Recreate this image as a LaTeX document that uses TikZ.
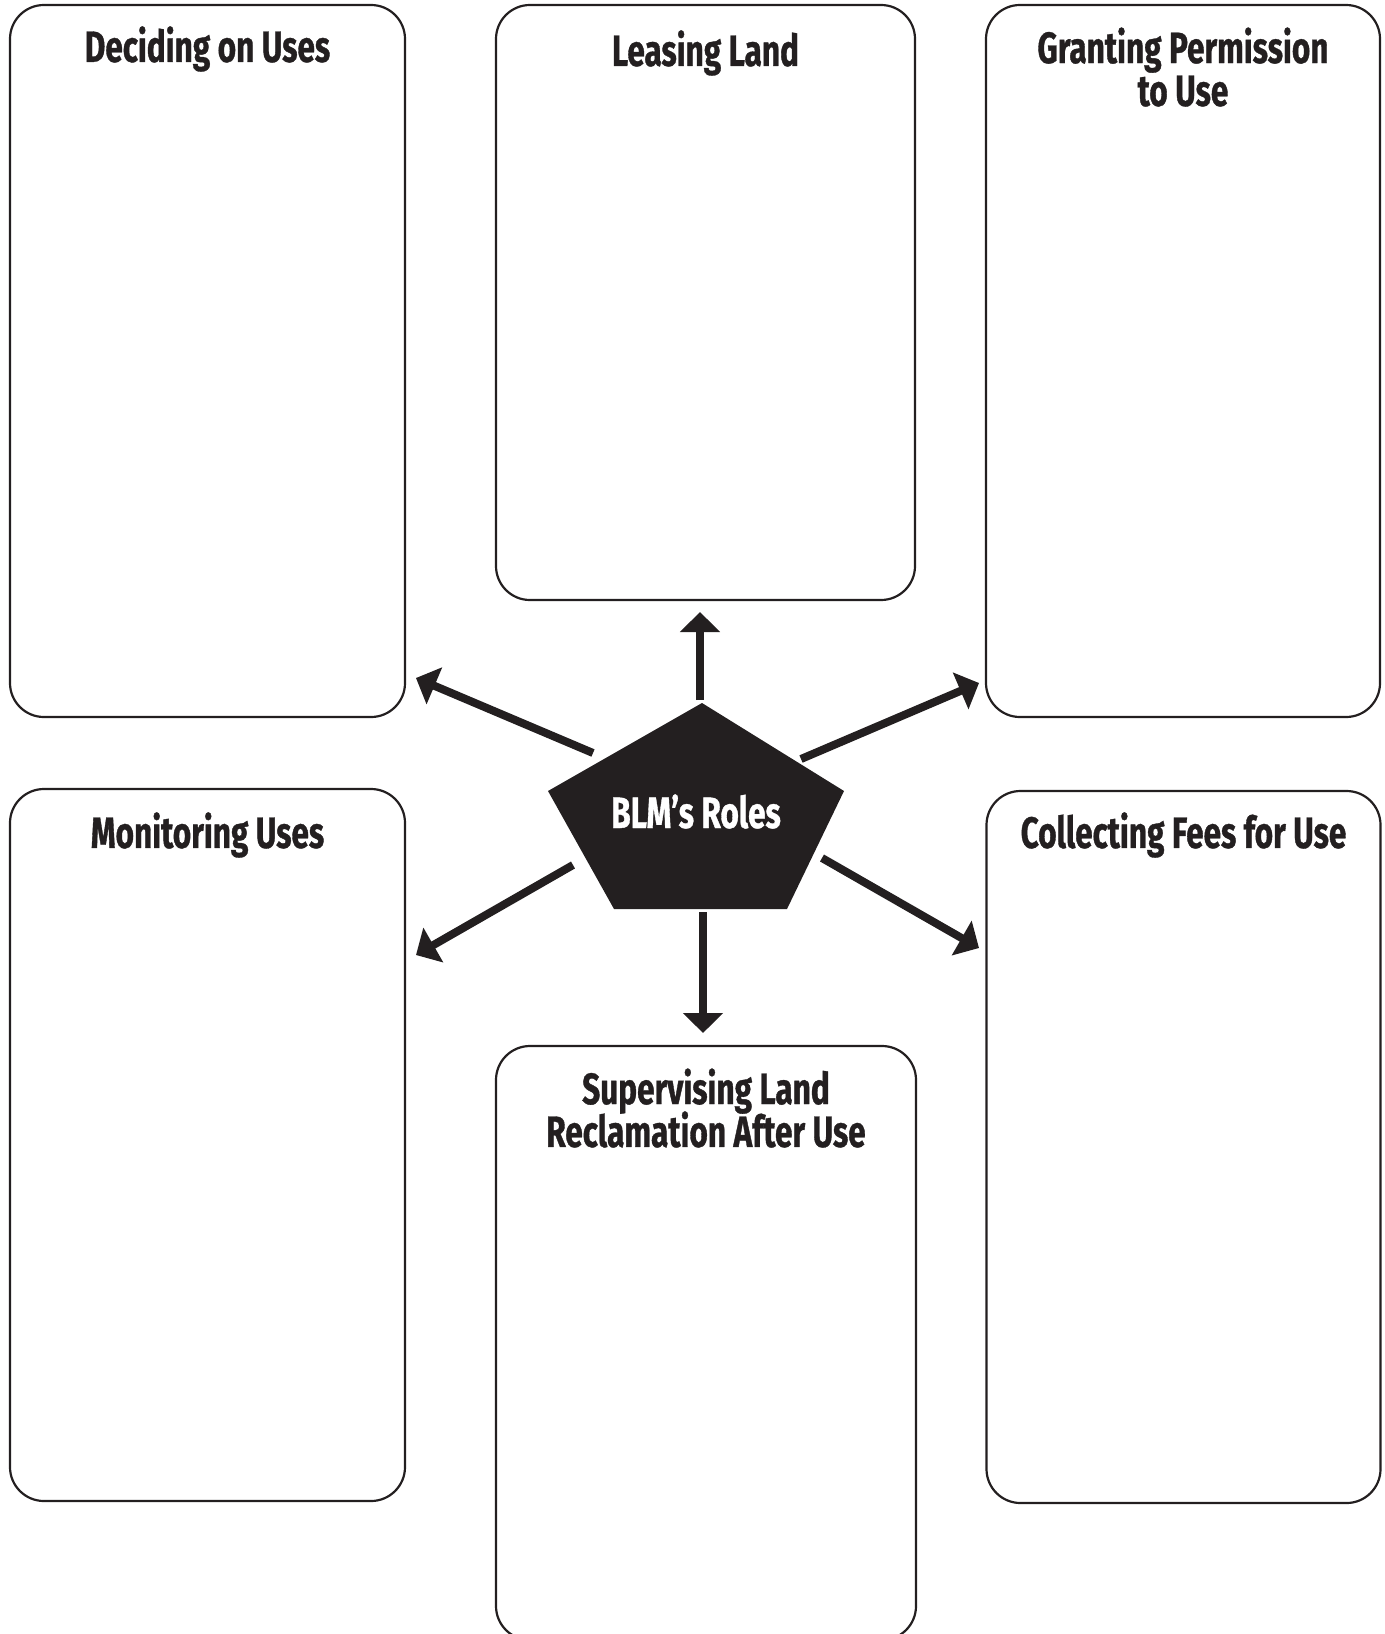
\documentclass[tikz,border=0pt]{standalone}
\usepackage{fontspec}
\newfontfamily\headfont[FakeStretch=0.72,BoldFeatures={FakeBold=0.8}]{Fira Sans}
\usetikzlibrary{arrows.meta}
\definecolor{ink}{HTML}{231F20}

\begin{document}
\begin{tikzpicture}[x=1bp,y=-1bp,
  rolebox/.style={draw=ink,line width=2.2bp,rounded corners=34bp,inner sep=0pt},
  boxtitle/.style={font={\headfont\bfseries\fontsize{44}{43}\selectfont\lineskiplimit=-50pt},text=ink,align=center,inner sep=0pt},
  rolearrow/.style={draw=ink,line width=8bp,-{Triangle[length=20bp,width=39bp]}}]
\useasboundingbox (0,0) rectangle (1385,1634);
% the six boxes
\node[rolebox,minimum width=395bp,minimum height=712bp] (deciding) at (207.5,361) {};
\node[rolebox,minimum width=419bp,minimum height=595bp] (leasing) at (705.5,302.5) {};
\node[rolebox,minimum width=394bp,minimum height=712bp] (granting) at (1183,361) {};
\node[rolebox,minimum width=395bp,minimum height=712bp] (monitoring) at (207.5,1145) {};
\node[rolebox,minimum width=420bp,minimum height=594bp] (supervising) at (706,1343) {};
\node[rolebox,minimum width=394bp,minimum height=712bp] (collecting) at (1183.5,1147) {};
% titles (base = last line)
\node[boxtitle,anchor=base] (decidingtitle) at ([yshift=-58bp]deciding.north) {Deciding on Uses};
\node[boxtitle,anchor=base] (leasingtitle) at ([yshift=-62bp]leasing.north) {Leasing Land};
\node[boxtitle,anchor=base] (grantingtitle) at ([yshift=-102bp]granting.north) {Granting Permission\\to Use};
\node[boxtitle,anchor=base] (monitoringtitle) at ([yshift=-60bp]monitoring.north) {Monitoring Uses};
\node[boxtitle,anchor=base] (supervisingtitle) at ([yshift=-102bp]supervising.north) {Supervising Land\\Reclamation After Use};
\node[boxtitle,anchor=base] (collectingtitle) at ([yshift=-58bp]collecting.north) {Collecting Fees for Use};
% centre pentagon
\coordinate (p1) at (702,703);
\coordinate (p2) at (844,791);
\coordinate (p3) at (787,909);
\coordinate (p4) at (614,909);
\coordinate (p5) at (548,791);
\fill[ink] (p1) -- (p2) -- (p3) -- (p4) -- (p5) -- cycle;
\node[boxtitle,text=white,anchor=base] (roles) at (696,828) {BLM’s Roles};
% arrows
\coordinate (upfrom) at (700,700);   \coordinate (upto) at (700,612);
\coordinate (downfrom) at (703,912); \coordinate (downto) at (703,1033);
\coordinate (ulfrom) at (593,753);   \coordinate (ulto) at (416,678);
\coordinate (llfrom) at (573,865);   \coordinate (llto) at (416,955);
\coordinate (urfrom) at (801,759);   \coordinate (urto) at (979,683);
\coordinate (lrfrom) at (822,858);   \coordinate (lrto) at (979,948);
\foreach \a in {up,down,ul,ll,ur,lr}
  \draw[rolearrow] (\a from) -- (\a to);
\end{tikzpicture}
\end{document}
